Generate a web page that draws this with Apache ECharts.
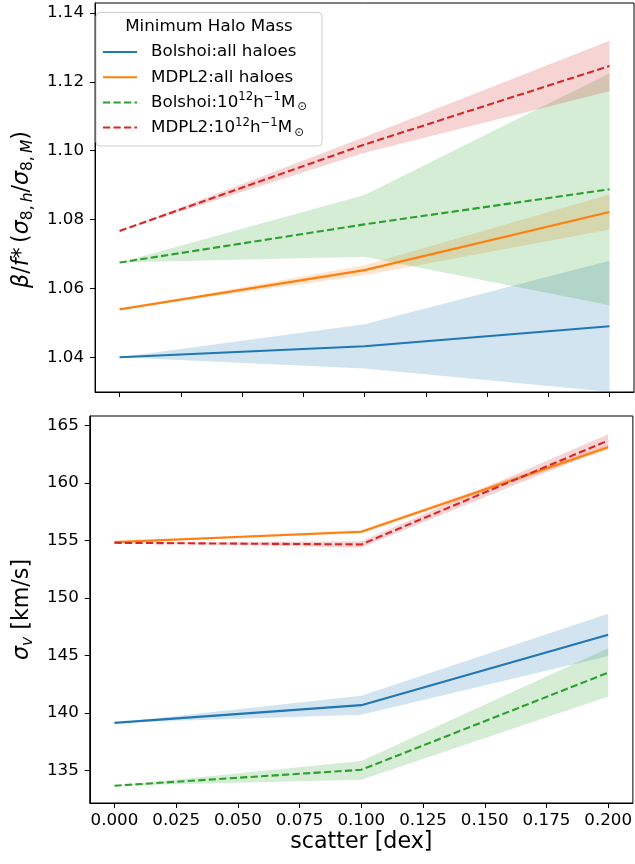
<!DOCTYPE html>
<html><head><meta charset="utf-8">
<script src="https://cdn.jsdelivr.net/npm/echarts@6/dist/echarts.min.js"></script>
<style>html,body{margin:0;padding:0;background:#fff}#c{width:635px;height:864px}</style>
</head><body><div id="c"></div>
<script>
// ---------- data ----------
const scatter = [0.0, 0.1, 0.2];
const xTicks = [0, 0.025, 0.05, 0.075, 0.1, 0.125, 0.15, 0.175, 0.2];
const xTickLabels = ['0.000','0.025','0.050','0.075','0.100','0.125','0.150','0.175','0.200'];
const betaTicks = [1.04, 1.06, 1.08, 1.10, 1.12, 1.14];
const betaTickLabels = ['1.04','1.06','1.08','1.10','1.12','1.14'];
const sigmaTicks = [135, 140, 145, 150, 155, 160, 165];
const sigmaTickLabels = ['135','140','145','150','155','160','165'];

const seriesNames = ['Bolshoi:all haloes', 'MDPL2:all haloes', 'Bolshoi:10¹²h⁻¹M⊙', 'MDPL2:10¹²h⁻¹M⊙'];
const legendTitle = 'Minimum Halo Mass';

// top panel: beta / f * (sigma8,h / sigma8,M)
const betaBolshoiAll    = [1.0400, 1.0432, 1.0490];
const betaBolshoiAllLo  = [1.0400, 1.0367, 1.0300];
const betaBolshoiAllHi  = [1.0400, 1.0496, 1.0680];
const betaMdplAll       = [1.0539, 1.0653, 1.0822];
const betaMdplAllLo     = [1.0539, 1.0638, 1.0771];
const betaMdplAllHi     = [1.0539, 1.0667, 1.0873];
const betaBolshoi12     = [1.0675, 1.0786, 1.0888];
const betaBolshoi12Lo   = [1.0675, 1.0692, 1.0551];
const betaBolshoi12Hi   = [1.0675, 1.0871, 1.1225];
const betaMdpl12        = [1.0767, 1.1018, 1.1246];
const betaMdpl12Lo      = [1.0767, 1.0994, 1.1173];
const betaMdpl12Hi      = [1.0767, 1.1040, 1.1319];

// bottom panel: sigma_v [km/s]
const sigBolshoiAll     = [139.14, 140.68, 146.81];
const sigBolshoiAllLo   = [139.14, 139.84, 144.96];
const sigBolshoiAllHi   = [139.14, 141.49, 148.64];
const sigMdplAll        = [154.86, 155.76, 163.12];
const sigMdplAllLo      = [154.86, 155.60, 162.90];
const sigMdplAllHi      = [154.86, 155.92, 163.36];
const sigBolshoi12      = [133.67, 135.06, 143.51];
const sigBolshoi12Lo    = [133.67, 134.19, 141.43];
const sigBolshoi12Hi    = [133.67, 135.82, 145.63];
const sigMdpl12         = [154.80, 154.66, 163.70];
const sigMdpl12Lo       = [154.80, 154.40, 163.14];
const sigMdpl12Hi       = [154.80, 154.93, 164.25];

// ---------- styling ----------
const FF = 'DejaVu Sans';
const colors = ['#1f77b4', '#ff7f0e', '#2ca02c', '#d62728'];
const bandColors = ['rgba(31,119,180,0.2)', 'rgba(255,127,14,0.2)', 'rgba(44,160,44,0.2)', 'rgba(214,39,40,0.2)'];
const dashed = [false, false, true, true];

function pts(ys) { return scatter.map((x, i) => [x, ys[i]]); }
function bandData(lo, hi) { return scatter.map((x, i) => [x, lo[i], hi[i]]); }

function bandSeries(k, g, lo, hi) {
  return {
    type: 'custom', coordinateSystem: 'cartesian2d', xAxisIndex: g, yAxisIndex: g,
    silent: true, clip: true, z: 1,
    encode: { x: 0, y: [1, 2] },
    data: bandData(lo, hi),
    renderItem: function (params, api) {
      if (params.dataIndexInside !== 0) return null;
      const n = params.dataInsideLength;
      const p = [];
      for (let i = 0; i < n; i++) p.push(api.coord([api.value(0, i), api.value(1, i)]));
      for (let i = n - 1; i >= 0; i--) p.push(api.coord([api.value(0, i), api.value(2, i)]));
      return { type: 'polygon', shape: { points: p }, style: { fill: bandColors[k], stroke: null } };
    }
  };
}
function lineSeries(k, g, ys, name) {
  return {
    type: 'line', name: name, xAxisIndex: g, yAxisIndex: g,
    data: pts(ys), symbol: 'none', showSymbol: false, z: 3, silent: true,
    color: colors[k],
    lineStyle: { color: colors[k], width: 2.1, type: dashed[k] ? [7.2, 3.3] : 'solid' }
  };
}

function labelFrom(ticks, labels) {
  return v => { const i = ticks.findIndex(t => Math.abs(t - v) < 1e-9); return i >= 0 ? labels[i] : ''; };
}

function xAxisCfg(g, showLabels) {
  const a = {
    type: 'value', gridIndex: g, min: -0.01, max: 0.21,
    axisLine: { show: true, onZero: false, lineStyle: { color: '#000', width: 1 } },
    axisTick: { show: true, inside: false, length: 5, customValues: xTicks, lineStyle: { color: '#000', width: 1 } },
    axisLabel: { show: showLabels, customValues: xTicks, formatter: labelFrom(xTicks, xTickLabels),
                 color: '#000', fontSize: 16.7, fontFamily: FF, margin: 9 },
    splitLine: { show: false }
  };
  if (showLabels) {
    a.name = 'scatter [dex]';
    a.nameLocation = 'middle';
    a.nameGap = 28;
    a.nameTextStyle = { color: '#000', fontSize: 22.2, fontFamily: FF };
  }
  return a;
}
function yAxisCfg(g, min, max, ticks, labels, name, gap, pad) {
  return {
    type: 'value', gridIndex: g, min: min, max: max,
    axisLine: { show: true, onZero: false, lineStyle: { color: '#000', width: 1 } },
    axisTick: { show: true, inside: false, length: 5, customValues: ticks, lineStyle: { color: '#000', width: 1 } },
    axisLabel: { customValues: ticks, formatter: labelFrom(ticks, labels),
                 color: '#000', fontSize: 16.7, fontFamily: FF, margin: 11 },
    splitLine: { show: false },
    name: name, nameLocation: 'middle', nameRotate: 90, nameGap: gap,
    nameTextStyle: {
      color: '#000', fontSize: 22.2, fontFamily: FF, lineHeight: 28, padding: pad,
      rich: {
        r:  { fontSize: 22.2, fontFamily: FF, lineHeight: 28, color: '#000' },
        i:  { fontSize: 22.2, fontFamily: FF, lineHeight: 28, fontStyle: 'italic', color: '#000' },
        s:  { fontSize: 15.5, fontFamily: FF, lineHeight: 16, verticalAlign: 'bottom', color: '#000' },
        si: { fontSize: 15.5, fontFamily: FF, lineHeight: 16, verticalAlign: 'bottom', fontStyle: 'italic', color: '#000' }
      }
    }
  };
}

const legendRich = {
  'Bolshoi:all haloes': 'Bolshoi:all haloes',
  'MDPL2:all haloes': 'MDPL2:all haloes',
  'Bolshoi:10¹²h⁻¹M⊙': 'Bolshoi:10{sup|12}h{sup|−1}M{sub|⊙}',
  'MDPL2:10¹²h⁻¹M⊙': 'MDPL2:10{sup|12}h{sup|−1}M{sub|⊙}'
};

const series = [
  bandSeries(0, 0, betaBolshoiAllLo, betaBolshoiAllHi),
  bandSeries(1, 0, betaMdplAllLo, betaMdplAllHi),
  bandSeries(2, 0, betaBolshoi12Lo, betaBolshoi12Hi),
  bandSeries(3, 0, betaMdpl12Lo, betaMdpl12Hi),
  lineSeries(0, 0, betaBolshoiAll, seriesNames[0]),
  lineSeries(1, 0, betaMdplAll, seriesNames[1]),
  lineSeries(2, 0, betaBolshoi12, seriesNames[2]),
  lineSeries(3, 0, betaMdpl12, seriesNames[3]),
  bandSeries(0, 1, sigBolshoiAllLo, sigBolshoiAllHi),
  bandSeries(1, 1, sigMdplAllLo, sigMdplAllHi),
  bandSeries(2, 1, sigBolshoi12Lo, sigBolshoi12Hi),
  bandSeries(3, 1, sigMdpl12Lo, sigMdpl12Hi),
  lineSeries(0, 1, sigBolshoiAll, 'σv ' + seriesNames[0]),
  lineSeries(1, 1, sigMdplAll, 'σv ' + seriesNames[1]),
  lineSeries(2, 1, sigBolshoi12, 'σv ' + seriesNames[2]),
  lineSeries(3, 1, sigMdpl12, 'σv ' + seriesNames[3])
];

const chart = echarts.init(document.getElementById('c'), null, { renderer: 'canvas' });
chart.setOption({
  animation: false,
  backgroundColor: '#fff',
  textStyle: { fontFamily: FF },
  grid: [
    { left: 88, right: 1, top: 3, height: 389, show: true, borderColor: '#000', borderWidth: 1, backgroundColor: 'transparent' },
    { left: 88, right: 1, top: 416, height: 387, show: true, borderColor: '#000', borderWidth: 1, backgroundColor: 'transparent' }
  ],
  xAxis: [xAxisCfg(0, false), xAxisCfg(1, true)],
  yAxis: [
    yAxisCfg(0, 1.0299, 1.1429, betaTicks, betaTickLabels,
      '{i|β}{r|/}{i|f}{r|*\u2009(}{i|σ}{s|8,\u2009}{si|h}{r|/}{i|σ}{s|8,\u2009}{si|M}{r|)}', 57, [0, 24, 0, 0]),
    yAxisCfg(1, 132.17, 165.83, sigmaTicks, sigmaTickLabels,
      '{i|σ}{si|v}{r| [km/s]}', 51, 0)
  ],
  legend: {
    data: seriesNames, orient: 'vertical', left: 102, top: 41, padding: 0,
    itemWidth: 34, itemHeight: 14, itemGap: 3.2, selectedMode: false, z: 6,
    itemStyle: { opacity: 0 },
    formatter: name => legendRich[name],
    textStyle: {
      color: '#000', fontSize: 16.7, fontFamily: FF, lineHeight: 22, padding: [0, 0, 0, 9],
      rich: {
        sup: { fontSize: 11.7, fontFamily: FF, lineHeight: 12, verticalAlign: 'top', color: '#000' },
        sub: { fontSize: 11.7, fontFamily: FF, lineHeight: 12, verticalAlign: 'bottom', color: '#000', padding: [0, 0, 0, 2] }
      }
    }
  },
  graphic: [
    { type: 'rect', z: 5, shape: { x: 96, y: 12.5, width: 226, height: 133.5, r: 4 },
      style: { fill: 'rgba(255,255,255,0.8)', stroke: '#cccccc', lineWidth: 1 } },
    { type: 'text', z: 7, x: 209, y: 26.5,
      style: { text: legendTitle, fill: '#000', fontSize: 16.7, fontFamily: FF, textAlign: 'center', textVerticalAlign: 'middle' } }
  ],
  series: series
});
</script></body></html>
